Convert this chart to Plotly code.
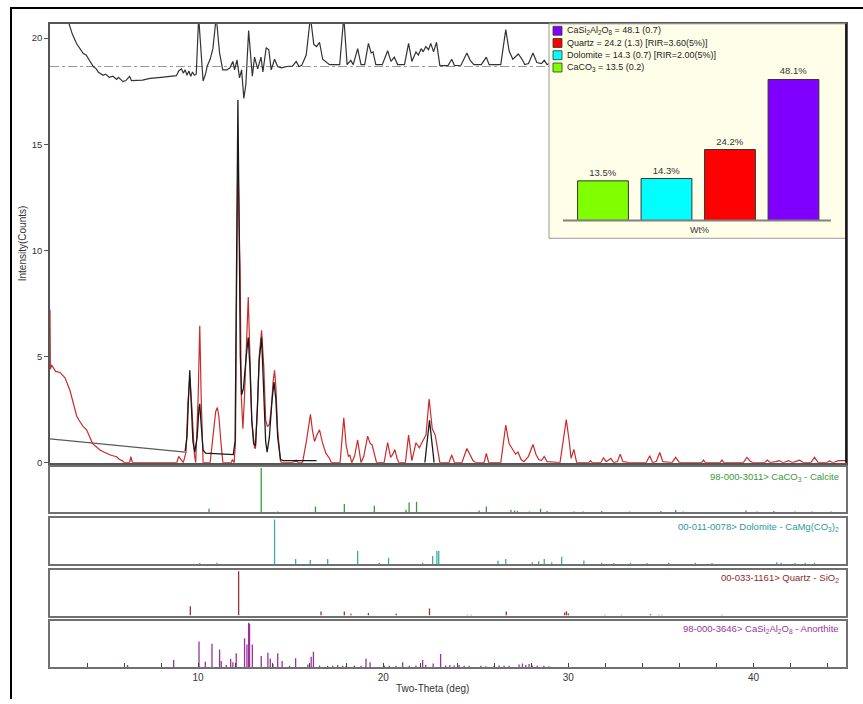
import plotly.graph_objects as go

W, H = 863, 704

# ---------------- data ----------------
two_theta_obs = [2.00, 2.02, 2.09, 2.30, 2.54, 2.81, 3.08, 3.30, 3.44, 3.60, 3.80, 3.98, 4.15, 4.30, 4.50, 4.70,
                 4.90, 5.07, 5.30, 5.60, 5.75, 5.90, 6.00, 6.30, 6.37, 6.45, 8.85, 8.95, 9.10, 9.20, 9.35, 9.45,
                 9.55, 9.65, 9.80, 9.87, 10.00, 10.09, 10.17, 10.27, 10.65, 10.80, 10.95, 11.04, 11.12, 11.25,
                 11.34, 11.80, 11.85, 11.95, 12.02, 12.08, 12.15, 12.22, 12.27, 12.33, 12.42, 12.50, 12.60,
                 12.71, 12.80, 12.90, 13.05, 13.10, 13.20, 13.30, 13.43, 13.55, 13.65, 13.75, 13.85, 13.95,
                 14.05, 14.13, 14.20, 14.30, 14.45, 14.50, 15.10, 15.30, 15.40, 15.64, 15.85, 16.07, 16.18,
                 16.29, 16.42, 16.56, 16.70, 16.90, 17.10, 17.20, 17.67, 17.87, 18.00, 18.12, 18.20, 18.30,
                 18.45, 18.62, 18.80, 18.95, 19.16, 19.30, 19.40, 19.55, 19.64, 20.05, 20.24, 20.40, 20.52,
                 20.63, 20.75, 20.85, 21.20, 21.37, 21.55, 21.77, 21.95, 22.16, 22.31, 22.48, 22.65, 22.81,
                 22.95, 23.06, 23.55, 23.70, 23.85, 24.25, 24.52, 24.70, 24.85, 25.00, 25.45, 25.57, 25.70,
                 26.35, 26.62, 26.80, 27.00, 27.15, 27.28, 27.45, 27.60, 27.85, 28.09, 28.25, 28.40, 28.55,
                 28.70, 28.85, 29.55, 29.75, 29.89, 30.05, 30.15, 30.30, 30.45, 31.10, 31.20, 31.30, 31.75,
                 31.90, 32.05, 32.30, 32.45, 32.65, 32.80, 32.95, 33.30, 34.20, 34.40, 34.55, 34.75, 34.94,
                 35.10, 35.60, 35.80, 36.00, 37.20, 37.30, 37.40, 38.20, 38.30, 38.40, 39.45, 39.65, 39.85,
                 40.00, 40.60, 40.75, 40.90, 41.20, 41.40, 41.60, 41.90, 42.10, 42.50, 42.70, 43.10, 43.30,
                 43.50, 43.95, 44.10, 44.30, 44.60, 45.00]
intensity_obs = [7.2, 4.4, 4.6, 4.3, 4.25, 4.0, 3.4, 2.7, 2.2, 1.95, 1.7, 1.55, 1.2, 0.9, 0.75, 0.6,
                 0.5, 0.42, 0.35, 0.28, 0.15, 0.1, 0.0, 0.0, 0.28, 0.0, 0.0, 0.3, 0.15, 0.0, 0.5, 2.8,
                 4.0, 2.8, 0.4, 0.0, 3.0, 6.45, 3.0, 0.0, 0.0, 1.3, 2.4, 2.6, 2.2, 0.8,
                 0.0, 0.0, 0.15, 0.0, 1.0, 8.0, 14.8, 11.0, 9.2, 3.2, 1.6, 3.0, 5.8,
                 7.8, 5.0, 2.0, 0.7, 0.67, 2.5, 5.0, 6.24, 4.5, 2.0, 1.7, 1.8, 2.5,
                 3.8, 4.35, 3.6, 1.5, 0.1, 0.0, 0.0, 0.12, 0.0, 0.0, 1.0, 2.28, 1.5,
                 1.0, 1.3, 1.55, 1.0, 0.45, 0.2, 0.0, 0.0, 2.12, 0.8, 0.3, 0.35, 0.0,
                 0.3, 1.07, 0.0, 0.3, 1.25, 0.9, 0.84, 0.3, 0.0, 0.0, 0.95, 0.25, 0.4,
                 0.62, 0.2, 0.0, 0.0, 1.3, 0.1, 0.94, 0.7, 1.06, 1.3, 3.0, 1.6, 1.3,
                 0.5, 0.0, 0.0, 0.36, 0.0, 0.0, 0.67, 0.35, 0.1, 0.0, 0.0, 0.44, 0.0,
                 0.0, 1.77, 0.9, 0.6, 0.4, 0.5, 0.15, 0.05, 0.3, 0.86, 0.4, 0.15, 0.1,
                 0.3, 0.05, 0.0, 1.2, 2.03, 1.0, 0.2, 0.63, 0.0, 0.0, 0.1, 0.0, 0.0,
                 0.23, 0.05, 0.2, 0.0, 0.05, 0.4, 0.05, 0.0, 0.0, 0.33, 0.0, 0.05, 0.48,
                 0.05, 0.0, 0.25, 0.0, 0.0, 0.12, 0.0, 0.0, 0.12, 0.0, 0.0, 0.25, 0.05,
                 0.0, 0.0, 0.12, 0.0, 0.05, 0.1, 0.0, 0.1, 0.0, 0.12, 0.0, 0.0, 0.25,
                 0.0, 0.0, 0.08, 0.0, 0.1, 0.1]

two_theta_bkg = [2.0, 9.3]
intensity_bkg = [1.12, 0.5]

two_theta_calc = [9.30, 9.40, 9.48, 9.55, 9.62, 9.72, 9.82, 9.95, 10.05, 10.09, 10.15, 10.27, 10.40, 11.60,
                  11.90, 12.00, 12.07, 12.15, 12.22, 12.28, 12.35, 12.45, 12.60, 12.71, 12.80, 12.90, 13.00,
                  13.10, 13.20, 13.30, 13.43, 13.55, 13.65, 13.73, 13.85, 13.98, 14.10, 14.20, 14.30, 14.45,
                  14.60, 16.40, None, 22.25, 22.40, 22.50, 22.60, 22.75]
intensity_calc = [0.55, 1.2, 3.0, 4.35, 3.0, 1.0, 0.5, 1.2, 2.6, 2.77, 2.0, 0.6, 0.45, 0.4,
                  0.38, 1.0, 8.0, 17.08, 11.0, 5.0, 3.2, 3.5, 5.0, 5.9, 4.5, 2.0, 0.9,
                  0.8, 2.5, 4.8, 5.9, 3.5, 1.0, 0.5, 1.2, 2.8, 3.8, 3.0, 1.2, 0.15,
                  0.1, 0.1, None, 0.0, 1.2, 2.0, 1.2, 0.0]

diff_offset = 18.66
two_theta_diff = [2.0, 2.9, 3.02, 3.2, 3.44, 3.6, 3.8, 3.95, 4.07, 4.2, 4.34, 4.5, 4.6, 4.87, 5.0, 5.2, 5.4,
                  5.6, 5.7, 5.94, 6.1, 6.3, 6.4, 7.0, 7.4, 8.0, 8.5, 8.83, 8.95, 9.1, 9.2, 9.3, 9.4, 9.5,
                  9.6, 9.7, 9.8, 9.9, 10.03, 10.15, 10.27, 10.4, 10.5, 10.65, 10.8, 10.98, 11.16, 11.33,
                  11.55, 11.72, 11.88, 11.97, 12.1, 12.24, 12.35, 12.47, 12.58, 12.73, 12.83, 12.93, 13.05,
                  13.22, 13.4, 13.5, 13.68, 13.82, 13.95, 14.13, 14.3, 14.5, 14.8, 15.1, 15.3, 15.45, 15.6,
                  15.84, 16.07, 16.25, 16.4, 16.56, 16.73, 16.9, 17.1, 17.65, 17.87, 18.05, 18.25, 18.38,
                  18.62, 18.8, 19.0, 19.2, 19.35, 19.45, 19.6, 19.95, 20.24, 20.42, 20.6, 20.78, 21.15,
                  21.37, 21.55, 21.77, 21.9, 22.05, 22.16, 22.3, 22.45, 22.57, 22.72, 22.88, 23.06, 23.5,
                  23.7, 23.85, 24.2, 24.52, 24.7, 24.9, 25.3, 25.57, 25.72, 26.35, 26.62, 26.8, 27.0, 27.3,
                  27.5, 27.65, 27.85, 28.09, 28.3, 28.55, 28.7, 28.85, 29.0]
intensity_diff = [24.0, 21.5, 20.7, 20.2, 19.73, 19.5, 19.27, 19.2, 19.03, 18.85, 18.66, 18.55, 18.4, 18.25,
                  18.3, 18.15, 18.2, 18.05, 18.15, 17.95, 18.0, 18.2, 18.0, 18.02, 18.1, 18.15, 18.2, 18.23,
                  18.45, 18.55, 18.35, 18.5, 18.25, 18.45, 18.2, 18.4, 18.25, 18.3, 21.0, 19.5, 17.98, 18.3,
                  18.7, 19.0, 19.5, 21.0, 19.3, 18.5, 18.5, 18.6, 18.9, 18.5, 18.97, 18.12, 18.5, 17.16,
                  17.8, 20.35, 19.2, 18.2, 19.1, 18.55, 19.1, 18.4, 19.55, 19.45, 18.5, 19.0, 18.66, 18.6,
                  18.66, 18.68, 18.9, 18.66, 18.72, 19.2, 21.0, 19.7, 19.6, 19.8, 19.0, 18.9, 18.75, 18.75,
                  21.0, 18.75, 18.95, 18.75, 19.5, 18.75, 18.75, 19.75, 19.3, 19.35, 18.75, 18.75, 19.4,
                  18.9, 19.1, 18.75, 18.75, 19.75, 18.9, 19.35, 19.2, 19.5, 19.35, 19.6, 19.45, 19.75,
                  19.35, 19.8, 18.7, 18.7, 19.0, 18.7, 18.72, 19.3, 18.95, 18.75, 18.75, 19.1, 18.75,
                  18.75, 20.4, 19.4, 19.0, 19.25, 19.0, 18.75, 18.8, 19.3, 18.85, 18.8, 18.95, 18.75, 18.8]

calcite_pos = [10.59, 13.41, 14.30, 16.34, 17.90, 19.52, 21.23, 21.40, 21.80, 25.18, 25.57, 26.90, 27.10,
               27.25, 27.90, 28.50, 28.85, 30.30, 30.80, 31.80, 33.30, 35.00, 35.80, 36.20, 39.60, 40.20,
               41.10, 42.25, 43.15, 44.20]
calcite_int = [8, 100, 2, 13, 19, 15, 6, 22, 24, 4, 13, 6, 4, 3, 2, 8, 3, 2, 2, 3, 2, 3, 5, 2, 4, 2, 3, 2, 2, 2]

dolomite_pos = [10.09, 11.02, 14.13, 15.27, 16.06, 17.00, 18.62, 19.79, 20.29, 22.13, 22.67, 22.90, 23.00,
                26.20, 26.62, 28.05, 28.40, 28.70, 29.10, 29.64, 30.84, 31.80, 32.46, 33.36, 34.25, 35.42,
                36.86, 37.76, 41.26, 41.50, 42.24, 42.80, 43.30]
dolomite_int = [2, 3, 100, 11, 9, 11, 29, 3, 14, 3, 18, 29, 29, 7, 11, 4, 6, 11, 4, 16, 8, 3, 2, 3, 2, 3,
                3, 2, 4, 3, 2, 3, 3]

quartz_pos = [9.58, 12.19, 16.64, 17.90, 18.26, 19.20, 20.70, 22.50, 24.55, 24.75, 26.65, 29.80, 29.90,
              30.00, 31.97, 32.87, 34.44, 34.90, 35.05, 38.30]
quartz_int = [21, 100, 9, 9, 4, 6, 4, 16, 2, 2, 9, 7, 10, 5, 2, 2, 3, 2, 2, 2]

anorthite_pos = [6.19, 8.68, 10.05, 10.39, 10.75, 11.16, 11.25, 11.52, 11.76, 11.88, 12.06, 12.51, 12.64,
                 12.73, 12.78, 12.93, 13.41, 13.77, 13.90, 14.04, 14.30, 14.54, 14.94, 15.27, 15.93, 16.11,
                 16.23, 16.56, 17.00, 17.28, 17.54, 17.81, 18.00, 18.44, 18.80, 19.07, 19.29, 20.06, 20.33,
                 20.69, 21.05, 21.41, 21.77, 22.13, 22.30, 22.70, 23.10, 23.38, 23.60, 23.83, 24.10, 24.37,
                 24.64, 25.27, 25.54, 25.99, 26.26, 26.53, 26.80, 27.34, 27.52, 27.70, 27.88, 28.05, 28.32,
                 28.68, 28.95]
anorthite_int = [5, 16, 57, 12, 52, 39, 14, 5, 18, 11, 31, 64, 50, 98, 96, 50, 25, 32, 19, 7, 31, 14, 3, 20,
                 6, 23, 34, 4, 3, 3, 5, 3, 4, 3, 3, 19, 11, 3, 3, 3, 11, 3, 4, 16, 5, 8, 29, 4, 5, 4, 5, 3,
                 3, 3, 2, 3, 4, 3, 3, 6, 8, 5, 7, 4, 3, 3, 2]

phases = ["CaCO3", "Dolomite", "Quartz", "CaSi2Al2O8"]
wt_pct = [13.5, 14.3, 24.2, 48.1]
phase_colors = ["#80FF00", "#00FFFF", "#FF0000", "#8000FF"]
legend_labels = ["CaSi<sub>2</sub>Al<sub>2</sub>O<sub>8</sub> = 48.1 (0.7)",
                 "Quartz = 24.2 (1.3) [RIR=3.60(5%)]",
                 "Dolomite = 14.3 (0.7) [RIR=2.00(5%)]",
                 "CaCO<sub>3</sub> = 13.5 (0.2)"]
legend_colors = ["#8000FF", "#FF0000", "#00FFFF", "#80FF00"]

pattern_labels = ["98-000-3011> CaCO<sub>3</sub> - Calcite",
                  "00-011-0078> Dolomite - CaMg(CO<sub>3</sub>)<sub>2</sub>",
                  "00-033-1161> Quartz - SiO<sub>2</sub>",
                  "98-000-3646> CaSi<sub>2</sub>Al<sub>2</sub>O<sub>8</sub> - Anorthite"]
pattern_colors = ["#3C9A3C", "#2E9A9A", "#8E2A2A", "#993399"]
stick_colors = ["#3A9A3A", "#3AAAAA", "#993333", "#993399"]
sticks = [(calcite_pos, calcite_int), (dolomite_pos, dolomite_int),
          (quartz_pos, quartz_int), (anorthite_pos, anorthite_int)]

X_RANGE = [2, 45]
Y_MAIN = [0, 20.67]

# ---------------- helpers ----------------
def fx(px):
    return px / W

def fy(py):
    return 1 - py / H

FONT = "Liberation Sans, Arial, sans-serif"
fig = go.Figure()

# main pattern
fig.add_trace(go.Scatter(x=[X_RANGE[0], X_RANGE[1]], y=[diff_offset, diff_offset], mode="lines",
                         line=dict(color="#9a9a9a", width=1.2, dash="dashdot"), xaxis="x", yaxis="y"))
fig.add_trace(go.Scatter(x=two_theta_diff, y=intensity_diff, mode="lines",
                         line=dict(color="#333333", width=1.2), xaxis="x", yaxis="y"))
fig.add_trace(go.Scatter(x=two_theta_bkg, y=intensity_bkg, mode="lines",
                         line=dict(color="#5a5a5a", width=1.3), xaxis="x", yaxis="y"))
fig.add_trace(go.Scatter(x=two_theta_obs, y=intensity_obs, mode="lines",
                         line=dict(color="#CC2A2A", width=1.2), xaxis="x", yaxis="y"))
fig.add_trace(go.Scatter(x=two_theta_calc, y=intensity_calc, mode="lines", connectgaps=False,
                         line=dict(color="#1a1a1a", width=1.3), xaxis="x", yaxis="y"))

# stick patterns
for i, (pos, inten) in enumerate(sticks):
    xs, ys = [], []
    for p, v in zip(pos, inten):
        xs += [p, p, None]
        ys += [0, v, None]
    ax = str(i + 2)
    fig.add_trace(go.Scatter(x=xs, y=ys, mode="lines", line=dict(color=stick_colors[i], width=1.3),
                             xaxis="x" + ax, yaxis="y" + ax))

# inset bar chart
bar_x = list(range(len(phases)))
fig.add_trace(go.Bar(x=bar_x, y=wt_pct, marker=dict(color=phase_colors, line=dict(color="#333333", width=1)),
                     width=0.8, text=[f"{v}%" for v in wt_pct], textposition="outside", cliponaxis=False,
                     textfont=dict(size=9.5, color="#333333", family=FONT), xaxis="x6", yaxis="y6"))

X6_RANGE = [-0.85, 3.827]
Y6_RANGE = [-6.1, 67.1]

main_dom_x = [fx(50), fx(846)]
panels_py = [(470, 516), (522, 568), (574, 620), (625, 672)]

layout = dict(
    width=W, height=H, margin=dict(l=0, r=0, t=0, b=0), showlegend=False,
    paper_bgcolor="white", plot_bgcolor="white",
    font=dict(family=FONT, size=10, color="#333333"),
    xaxis=dict(domain=main_dom_x, range=X_RANGE, anchor="y", showticklabels=False, ticks="",
               showgrid=False, zeroline=False, showline=True, mirror=True, linecolor="#555555", linewidth=1.5,
               matches="x5"),
    yaxis=dict(domain=[fy(466), fy(24)], range=Y_MAIN, anchor="x", tickvals=[0, 5, 10, 15, 20],
               ticks="outside", ticklen=4, tickcolor="#555555", tickfont=dict(size=9.5, color="#333333"),
               showgrid=False, zeroline=False, showline=True, mirror=True, linecolor="#555555", linewidth=1.5),
)
for i, (top, bot) in enumerate(panels_py):
    n = i + 2
    last = (n == 5)
    xa = dict(domain=main_dom_x, range=X_RANGE, anchor="y%d" % n, showgrid=False, zeroline=False,
              showline=True, mirror=True, linecolor="#707070", linewidth=2)
    if last:
        xa.update(tick0=0, dtick=10, ticks="inside", ticklen=4, tickcolor="#444444",
                  tickfont=dict(size=10, color="#333333"),
                  minor=dict(dtick=2, ticks="inside", ticklen=4, tickcolor="#444444"))
    else:
        xa.update(showticklabels=False, ticks="", matches="x5")
    ya = dict(domain=[fy(bot), fy(top)], range=[0, 103], anchor="x%d" % n, showticklabels=False, ticks="",
              showgrid=False, zeroline=False, showline=True, mirror=True, linecolor="#707070", linewidth=2)
    layout["xaxis%d" % n] = xa
    layout["yaxis%d" % n] = ya

layout["xaxis6"] = dict(domain=[fx(549), fx(846)], range=X6_RANGE, anchor="y6", visible=False, fixedrange=True)
layout["yaxis6"] = dict(domain=[fy(240), fy(24)], range=Y6_RANGE, anchor="x6", visible=False, fixedrange=True)

shapes = []
# inset background (drawn in the inset subplot, above main traces)
shapes.append(dict(type="rect", xref="x6", yref="y6", x0=X6_RANGE[0], x1=X6_RANGE[1], y0=Y6_RANGE[0],
                   y1=Y6_RANGE[1], fillcolor="#FFFFE9", line=dict(width=0), layer="below"))
# inset border
shapes.append(dict(type="rect", xref="paper", yref="paper", x0=fx(549), x1=fx(846), y0=fy(240), y1=fy(24),
                   line=dict(color="#999999", width=1), layer="above"))
shapes.append(dict(type="line", xref="paper", yref="paper", x0=fx(846), x1=fx(846), y0=fy(466), y1=fy(24),
                   line=dict(color="#111111", width=1.8), layer="above"))
# inset baseline
shapes.append(dict(type="line", xref="x6", yref="y6", x0=-0.63, x1=3.59, y0=0, y1=0,
                   line=dict(color="#808080", width=2), layer="above"))
# legend swatches
legend_rows = [31, 43.3, 55.6, 68]
for c, r in zip(legend_colors, legend_rows):
    shapes.append(dict(type="rect", xref="paper", yref="paper", x0=fx(553), x1=fx(562), y0=fy(r + 4.5),
                       y1=fy(r - 4.5), fillcolor=c, line=dict(color="#333333", width=0.8), layer="above"))
# outer frame
shapes.append(dict(type="line", xref="paper", yref="paper", x0=fx(11), x1=fx(11), y0=0, y1=fy(8),
                   line=dict(color="black", width=2), layer="above"))
shapes.append(dict(type="line", xref="paper", yref="paper", x0=fx(10), x1=1.0, y0=fy(8), y1=fy(8),
                   line=dict(color="black", width=2), layer="above"))
layout["shapes"] = shapes

ann = []
for t, r in zip(legend_labels, legend_rows):
    ann.append(dict(text=t, x=fx(565), y=fy(r), xref="paper", yref="paper", xanchor="left", yanchor="middle",
                    showarrow=False, font=dict(size=9, color="#222222", family=FONT)))
ann.append(dict(text="Wt%", x=fx(699), y=fy(232), xref="paper", yref="paper", xanchor="center",
                yanchor="middle", showarrow=False, font=dict(size=9, color="#333333", family=FONT)))
label_py = [480, 531, 582, 634]
for t, c, py in zip(pattern_labels, pattern_colors, label_py):
    ann.append(dict(text=t, x=fx(841), y=fy(py), xref="paper", yref="paper", xanchor="right",
                    yanchor="middle", showarrow=False, font=dict(size=9.5, color=c, family=FONT)))
ann.append(dict(text="Intensity(Counts)", x=fx(22), y=fy(245), xref="paper", yref="paper", textangle=-90,
                xanchor="center", yanchor="middle", showarrow=False, font=dict(size=10, color="#333333")))
ann.append(dict(text="Two-Theta (deg)", x=fx(432), y=fy(693), xref="paper", yref="paper",
                xanchor="center", yanchor="middle", showarrow=False, font=dict(size=10, color="#333333")))
layout["annotations"] = ann

fig.update_layout(**layout)
fig.write_html("out.html", config={"displayModeBar": False},
               post_script="document.body.style.margin='0';document.body.style.overflow='hidden';")
